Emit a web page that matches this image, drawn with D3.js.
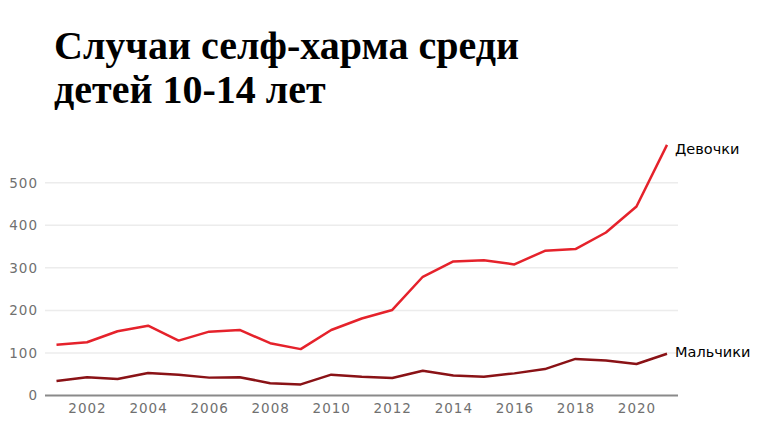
<!DOCTYPE html>
<html><head><meta charset="utf-8">
<script src="https://cdn.jsdelivr.net/npm/d3@7"></script>
<style>body{margin:0;background:#fff}svg{display:block}</style>
</head><body>
<svg id="c" width="760" height="428"></svg>
<script>
const titleLines = ["Случаи селф-харма среди", "детей 10-14 лет"];
const years = [2001,2002,2003,2004,2005,2006,2007,2008,2009,2010,2011,2012,2013,2014,2015,2016,2017,2018,2019,2020,2021];
const girls = [119,125,151,164,129,150,154,123,109,154,181,201,279,315,318,308,340,344,383,444,589];
const boys  = [34,43,39,53,49,42,43,29,26,49,44,41,58,47,44,52,62,86,82,74,98];
const seriesNames = ["Девочки","Мальчики"];
const yTicks = [0,100,200,300,400,500];
const xTicks = [2002,2004,2006,2008,2010,2012,2014,2016,2018,2020];

const svg = d3.select("#c");
const x = d3.scaleLinear().domain([2001,2021]).range([56.5,667]);
const y = d3.scaleLinear().domain([0,500]).range([395.5,182.7]);
const gridX0 = 45, gridX1 = 678;

// title
svg.append("text").attr("font-family","Liberation Serif, Times New Roman, serif")
  .attr("font-weight","bold").attr("font-size",40).attr("fill","#000")
  .selectAll("tspan").data(titleLines).join("tspan")
  .attr("x",54).attr("y",(d,i)=>59+i*44).text(d=>d);

// grid
svg.append("g").selectAll("line").data(yTicks.filter(d=>d>0)).join("line")
  .attr("x1",gridX0).attr("x2",gridX1).attr("y1",d=>y(d)).attr("y2",d=>y(d))
  .attr("stroke","#ececec").attr("stroke-width",1.5);
svg.append("line").attr("x1",gridX0).attr("x2",gridX1).attr("y1",y(0)).attr("y2",y(0))
  .attr("stroke","#8a8a8a").attr("stroke-width",2);

// y labels
const yAxis = d3.axisLeft(y).tickValues(yTicks).tickSize(0).tickPadding(0);
const gy = svg.append("g").attr("transform","translate(38,0)").call(yAxis);
gy.select(".domain").remove();
gy.selectAll("text").attr("font-family","DejaVu Sans, sans-serif").attr("font-size",13.5)
  .attr("fill","#707070").attr("letter-spacing","1px");

// x labels
const xAxis = d3.axisBottom(x).tickValues(xTicks).tickFormat(d3.format("d")).tickSize(0).tickPadding(0);
const gx = svg.append("g").attr("transform","translate(0,403)").call(xAxis);
gx.select(".domain").remove();
gx.selectAll("text").attr("font-family","DejaVu Sans, sans-serif").attr("font-size",13.5)
  .attr("fill","#707070").attr("letter-spacing","1px");

// lines
const line = d3.line().x((d,i)=>x(years[i])).y(d=>y(d));
const colors = ["#e5222b","#8a1216"];
const labelDy = [9,3];
[girls,boys].forEach((s,k)=>{
  svg.append("path").attr("d",line(s)).attr("fill","none")
    .attr("stroke",colors[k]).attr("stroke-width",2.5).attr("stroke-linejoin","round");
  svg.append("text").attr("x",x(2021)+8).attr("y",y(s[s.length-1])+labelDy[k])
    .attr("font-family","DejaVu Sans, sans-serif").attr("font-size",14.5)
    .attr("fill","#000").text(seriesNames[k]);
});
</script>
</body></html>
